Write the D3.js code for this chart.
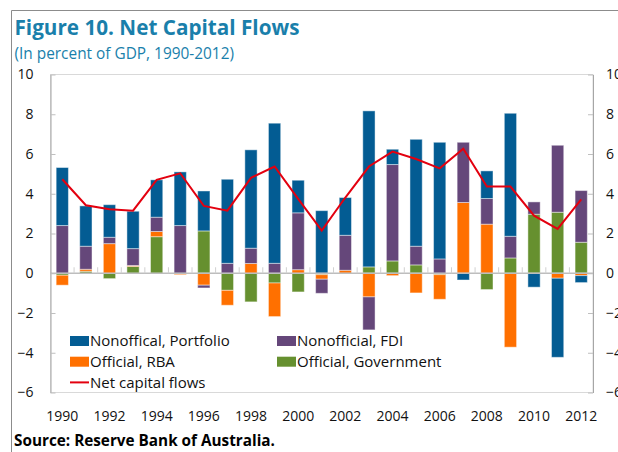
<!DOCTYPE html>
<html>
<head>
<meta charset="utf-8">
<script src="https://cdn.jsdelivr.net/npm/d3@7"></script>
<style>
  body { margin: 0; background: #fff; }
  svg { display: block; }
  text { font-family: "Open Sans", "Noto Sans", sans-serif; }
</style>
</head>
<body>
<svg id="chart" width="618" height="452"></svg>
<script>
// Years on the category axis
const years = [1990, 1991, 1992, 1993, 1994, 1995, 1996, 1997, 1998, 1999, 2000, 2001,
               2002, 2003, 2004, 2005, 2006, 2007, 2008, 2009, 2010, 2011, 2012];

// Components of net capital flows, percent of GDP
const portfolio = [2.92, 2.03, 1.64, 1.88, 1.88, 2.70, 2.01, 4.23, 4.95, 7.05, 1.64, 3.15,
                   1.90, 7.85, 0.77, 5.38, 5.87, -0.34, 1.39, 6.19, -0.70, -3.98, -0.35];
const fdi       = [2.40, 1.16, 0.32, 0.85, 0.72, 2.40, -0.14, 0.50, 0.77, 0.50, 2.86, -0.71,
                   1.76, -1.66, 4.85, 0.94, 0.72, 3.03, 1.29, 1.09, 0.62, 3.37, 2.60];
const rba       = [-0.50, 0.10, 1.49, 0.05, 0.26, -0.07, -0.60, -0.75, 0.49, -1.69, 0.18, -0.23,
                   0.15, -1.19, -0.12, -0.99, -1.24, 3.56, 2.47, -3.72, 0.00, -0.25, -0.12];
const government= [-0.10, 0.10, -0.27, 0.34, 1.84, 0.00, 2.13, -0.86, -1.44, -0.49, -0.94, -0.07,
                   0.00, 0.32, 0.62, 0.42, -0.07, 0.00, -0.82, 0.77, 2.97, 3.07, 1.56];
// Net capital flows line
const netFlows  = [4.73, 3.42, 3.22, 3.15, 4.70, 5.03, 3.39, 3.15, 4.80, 5.37, 3.74, 2.15,
                   3.81, 5.37, 6.12, 5.75, 5.28, 6.26, 4.36, 4.36, 2.90, 2.23, 3.72];

// Axis ticks
const yTicks = [-6, -4, -2, 0, 2, 4, 6, 8, 10];
const xLabelYears = [1990, 1992, 1994, 1996, 1998, 2000, 2002, 2004, 2006, 2008, 2010, 2012];

// Series (stacking order from the zero line outward) and legend entries
const seriesKeys = ["government", "rba", "fdi", "portfolio"];
const seriesData = { portfolio, fdi, rba, government };
const colors = {
  portfolio: "#035c93",
  fdi: "#65477a",
  rba: "#ff7000",
  government: "#66902f",
  net: "#e3000f"
};
const legendItems = [
  { key: "portfolio", label: "Nonoffical, Portfolio", col: 0, row: 0 },
  { key: "fdi", label: "Nonofficial, FDI", col: 1, row: 0 },
  { key: "rba", label: "Official, RBA", col: 0, row: 1 },
  { key: "government", label: "Official, Government", col: 1, row: 1 },
  { key: "net", label: "Net capital flows", col: 0, row: 2, line: true }
];

const svg = d3.select("#chart");
const plotLeft = 50.5, plotRight = 593, plotTop = 74.5, plotBottom = 392.5;
const titleColor = "#1a7fab";

// Outer frame
svg.append("path")
  .attr("d", `M11.5,452 V10.5 H618`)
  .attr("fill", "none").attr("stroke", "#8c8c8c").attr("stroke-width", 1);

// Title block
svg.append("text").attr("x", 14.5).attr("y", 35)
  .attr("fill", titleColor).attr("font-weight", 700).attr("font-size", 20.7)
  .text("Figure 10. Net Capital Flows");
svg.append("text").attr("x", 14.5).attr("y", 59)
  .attr("fill", titleColor).attr("font-size", 15.4)
  .text("(In percent of GDP, 1990-2012)");

// Scales
const x = d3.scaleBand().domain(years).range([plotLeft, plotRight])
  .paddingInner(0.48).paddingOuter(0.24);
const y = d3.scaleLinear().domain([-6, 10]).range([plotBottom, plotTop]);

// Plot frame
svg.append("rect").attr("x", plotLeft).attr("y", plotTop)
  .attr("width", plotRight - plotLeft).attr("height", plotBottom - plotTop)
  .attr("fill", "none").attr("stroke", "#d9d9d9");

// Stacked bars
const rows = years.map((yr, i) => {
  const r = { year: yr };
  seriesKeys.forEach(k => r[k] = seriesData[k][i]);
  return r;
});
const stacked = d3.stack().keys(seriesKeys).offset(d3.stackOffsetDiverging)(rows);

svg.append("g").selectAll("g").data(stacked).join("g")
  .attr("fill", d => colors[d.key])
  .selectAll("rect").data(d => d).join("rect")
  .attr("x", d => x(d.data.year))
  .attr("width", x.bandwidth())
  .attr("y", d => y(Math.max(d[0], d[1])))
  .attr("height", d => Math.abs(y(d[0]) - y(d[1])))
  .attr("stroke", "#ffffff").attr("stroke-opacity", 0.45).attr("stroke-width", 1);

// Zero line with category separators
svg.append("line").attr("x1", plotLeft).attr("x2", plotRight)
  .attr("y1", y(0)).attr("y2", y(0))
  .attr("stroke", "#bdbdbd").attr("stroke-width", 1.3);
const step = x.step();
svg.append("g").selectAll("line").data(years.slice(1)).join("line")
  .attr("x1", d => x(d) - step * x.paddingInner() / 2)
  .attr("x2", d => x(d) - step * x.paddingInner() / 2)
  .attr("y1", y(0) - 6).attr("y2", y(0))
  .attr("stroke", "#d0d0d0");

// Net capital flows line
svg.append("path").datum(netFlows)
  .attr("fill", "none").attr("stroke", colors.net).attr("stroke-width", 2)
  .attr("stroke-linejoin", "miter")
  .attr("d", d3.line().x((d, i) => x(years[i]) + x.bandwidth() / 2).y(d => y(d)));

// Left and right value axes
const leftAxis = d3.axisLeft(y).tickValues(yTicks).tickSize(0).tickPadding(17);
const rightAxis = d3.axisRight(y).tickValues(yTicks).tickSize(0).tickPadding(13);
[[leftAxis, plotLeft, 5], [rightAxis, plotRight, -5]].forEach(([ax, xPos, tick]) => {
  const g = svg.append("g").attr("transform", `translate(${xPos},0)`).call(ax);
  g.select(".domain").attr("stroke", "#a6a6a6");
  g.selectAll(".tick line").attr("x2", tick).attr("stroke", "#bfbfbf");
  g.selectAll("text").attr("font-size", 14).attr("fill", "#111")
    .attr("font-family", '"Open Sans", sans-serif');
});

// Year labels
svg.append("g").selectAll("text").data(xLabelYears).join("text")
  .attr("x", d => x(d) + x.bandwidth() / 2)
  .attr("y", 421)
  .attr("text-anchor", "middle").attr("font-size", 14).attr("fill", "#111")
  .text(d => d);

// Legend
const legend = svg.append("g");
legendItems.forEach(it => {
  const lx = it.col === 0 ? 70 : 277;
  const cy = 341 + it.row * 20.7;
  if (it.line) {
    legend.append("line").attr("x1", lx).attr("x2", lx + 19)
      .attr("y1", cy).attr("y2", cy)
      .attr("stroke", colors.net).attr("stroke-width", 2);
  } else {
    legend.append("rect").attr("x", lx).attr("y", cy - 5)
      .attr("width", 19).attr("height", 10).attr("fill", colors[it.key]);
  }
  legend.append("text").attr("x", lx + 20).attr("y", cy + 5.3)
    .attr("font-size", 15).attr("fill", "#111").text(it.label);
});

// Source note
svg.append("text").attr("x", 14).attr("y", 446)
  .attr("font-size", 15.3).attr("font-weight", 700).attr("fill", "#000")
  .text("Source: Reserve Bank of Australia.");
</script>
</body>
</html>
